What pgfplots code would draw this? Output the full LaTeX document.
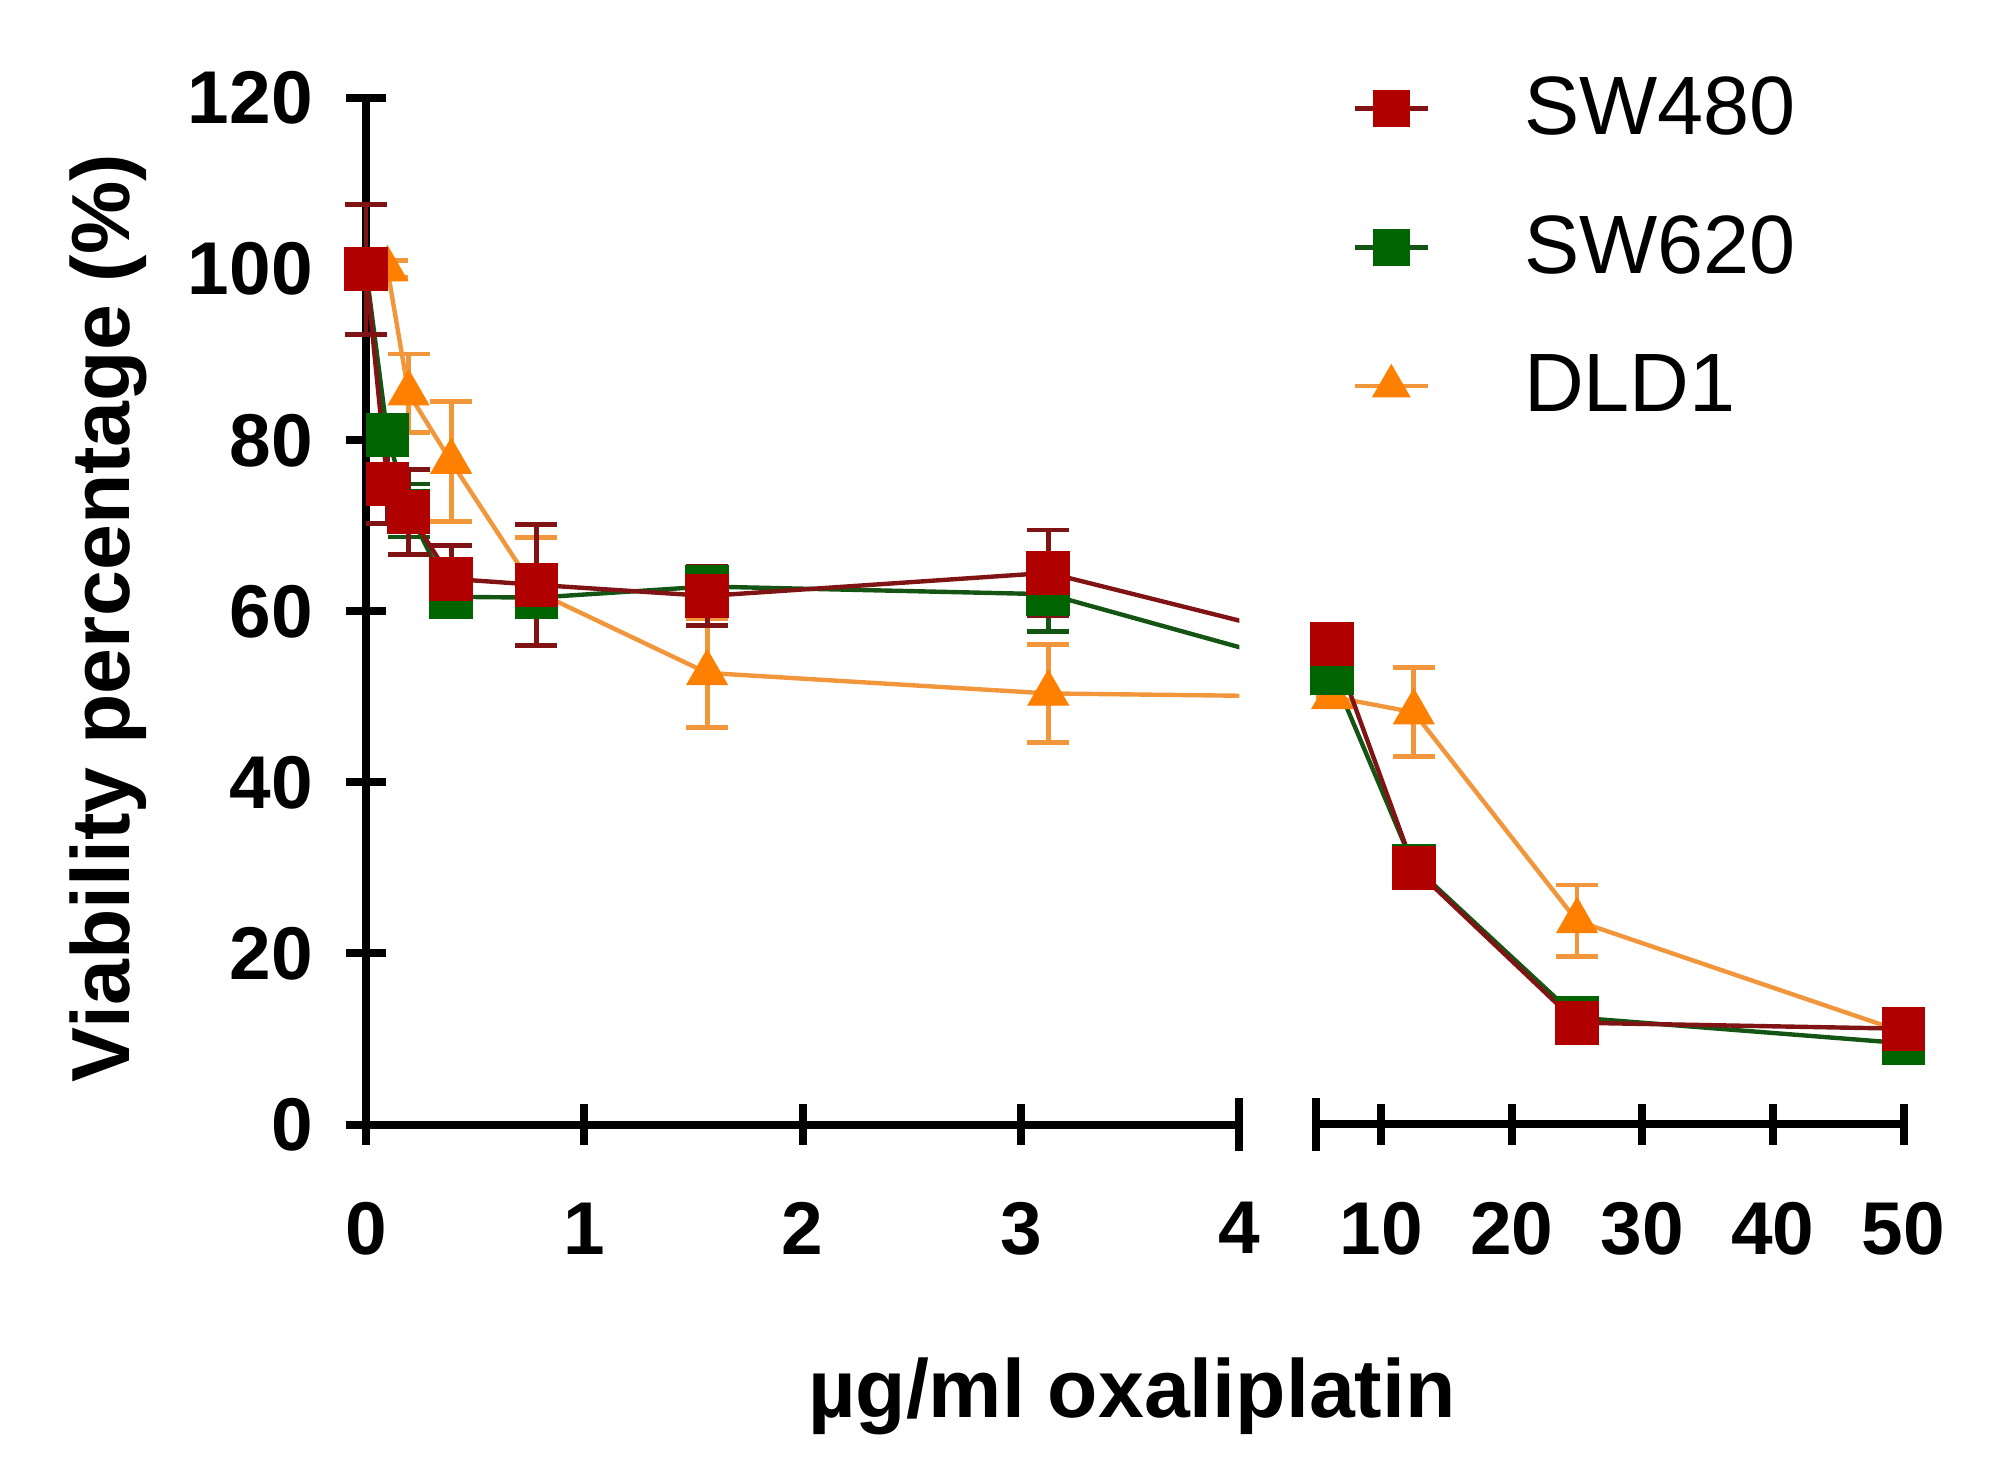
\documentclass[border=0pt]{standalone}
\usepackage{fontspec}
\setmainfont{Liberation Sans}
\usepackage{pgfplots}
\usepackage{pgfplotstable}
\pgfplotsset{compat=1.18}

\definecolor{swafill}{RGB}{176,0,0}
\definecolor{swaline}{RGB}{128,20,20}
\definecolor{swbfill}{RGB}{0,100,0}
\definecolor{swbline}{RGB}{20,85,20}
\definecolor{dldfill}{RGB}{255,128,0}
\definecolor{dldline}{RGB}{242,150,60}

% concentration (ug/ml), viability (%), error
\pgfplotstableread{
c y e
0 100 7.6
0.098 74.9 4.6
0.195 71.6 5.0
0.39 63.8 3.9
0.78 63.1 7.1
1.5625 61.8 3.5
3.125 64.5 5.0
6.25 56.2 1.5
12.5 30.0 1.0
25 11.9 1.0
50 11.2 1.0
}\swa
\pgfplotstableread{
c y e
0 100 1.0
0.098 80.6 2.0
0.195 71.8 3.1
0.39 61.7 1.5
0.78 61.6 2.0
1.5625 62.9 2.0
3.125 62.0 4.4
6.25 52.8 1.0
12.5 30.2 1.0
25 12.5 1.0
50 9.5 1.0
}\swb
\pgfplotstableread{
c y e
0.098 100 1.0
0.195 85.5 4.6
0.39 77.5 7.0
0.78 62.3 6.3
1.5625 52.8 6.4
3.125 50.4 5.7
6.25 50.0 1.0
12.5 48.2 5.2
25 23.8 4.2
50 10.8 1.0
}\dld

\pgfplotsset{
  frame/.style={x=54.58pt, y=2.1381pt, ymin=0, ymax=120, enlargelimits=false, clip=false,
    tick style={black, line width=2pt},
    major tick length=10pt,
    tick align=outside,
    ticklabel style={font=\bfseries\fontsize{18.7}{20}\selectfont},
    xticklabel style={yshift=-11pt},
    yticklabel style={xshift=-4.8pt},
    /pgf/number format/assume math mode=true,
  },
  data/.style={x=54.58pt, y=2.1381pt, ymin=-10, ymax=130, enlargelimits=false, hide axis,
    x filter/.expression={x>4 ? 4.3504+(x-5)*0.059818 : x}},
  swastyle/.style={color=swaline, line width=1.1pt, mark=square*, mark size=5.3pt,
    mark options={fill=swafill, draw=swafill, line width=0.3pt},
    error bars/.cd, y dir=both, y explicit,
    error bar style={line width=1.2pt, color=swaline},
    error mark options={rotate=90, mark size=5.25pt, line width=1.2pt, color=swaline}},
  swbstyle/.style={color=swbline, line width=1.1pt, mark=square*, mark size=5.3pt,
    mark options={fill=swbfill, draw=swbfill, line width=0.3pt},
    error bars/.cd, y dir=both, y explicit,
    error bar style={line width=1.2pt, color=swbline},
    error mark options={rotate=90, mark size=5.25pt, line width=1.2pt, color=swbline}},
  dldstyle/.style={color=dldline, line width=1.1pt, mark=triangle*, mark size=5.8pt,
    mark options={fill=dldfill, draw=dldfill, line width=0.3pt},
    error bars/.cd, y dir=both, y explicit,
    error bar style={line width=1.2pt, color=dldline},
    error mark options={rotate=90, mark size=5.25pt, line width=1.2pt, color=dldline}},
}

\begin{document}
\begin{tikzpicture}
\path[use as bounding box] (0,0) rectangle (499.75pt,366.5pt);

% left frame
\begin{axis}[frame, at={(91.5pt,85.375pt)}, anchor=south west, xmin=0, xmax=4,
  axis x line=bottom, axis y line=left,
  axis line style={-, line width=2pt, black},
  xtick={0,1,2,3}, ytick={0,20,...,120},
  extra x ticks={4},
  extra x tick style={tick align=center, major tick length=13pt, xticklabel style={yshift=1.6pt}},
  xlabel={µg/ml oxaliplatin}, ylabel={Viability percentage (\%)},
  label style={font=\bfseries\fontsize{20.6}{24}\selectfont},
  xlabel style={at={(axis description cs:0.877,-0.2645)}, anchor=center},
  ylabel style={at={(axis description cs:-0.2954,0.4935)}, anchor=center},
]
\end{axis}

% right frame with legend
\begin{axis}[frame, at={(328.95pt,85.375pt)}, anchor=south west, xmin=4.3504, xmax=7.0423,
  axis x line=bottom, axis y line=none,
  axis line style={-, line width=2pt, black},
  xtick={4.6495,5.2477,5.8459,6.4441,7.0423}, xticklabels={10,20,30,40,50},
  extra x ticks={4.3504}, extra x tick labels={},
  extra x tick style={tick align=center, major tick length=13pt},
  ytick=\empty,
  legend cell align=left,
  legend image code/.code={\draw[mark repeat=2, mark phase=2] plot coordinates {(0pt,0pt) (9.125pt,0pt) (18.25pt,0pt)};},
  legend style={at={(0.0408,1.0296)}, anchor=north west, draw=none, fill=none,
    font=\fontsize{20.7}{24}\selectfont, row sep=18.8pt, column sep=23.5pt,
    nodes={inner sep=0pt}},
]
\addlegendimage{color=swaline, line width=1.1pt, mark=square*, mark size=4pt, mark options={fill=swafill, draw=swafill}}
\addlegendentry{SW480}
\addlegendimage{color=swbline, line width=1.1pt, mark=square*, mark size=4pt, mark options={fill=swbfill, draw=swbfill}}
\addlegendentry{SW620}
\addlegendimage{color=dldline, line width=1.1pt, mark=triangle*, mark size=4.5pt, mark options={fill=dldfill, draw=dldfill}}
\addlegendentry{DLD1}
\end{axis}

% left data
\begin{axis}[data, at={(75.126pt,63.994pt)}, anchor=south west, xmin=-0.3, xmax=4]
\addplot[dldstyle] table[x=c, y=y, y error=e] {\dld};
\addplot[swbstyle] table[x=c, y=y, y error=e] {\swb};
\addplot[swastyle] table[x=c, y=y, y error=e] {\swa};
\end{axis}

% right data
\begin{axis}[data, at={(328.95pt,63.994pt)}, anchor=south west, xmin=4.3504, xmax=7.4]
\addplot[dldstyle] table[x=c, y=y, y error=e] {\dld};
\addplot[swbstyle] table[x=c, y=y, y error=e] {\swb};
\addplot[swastyle] table[x=c, y=y, y error=e] {\swa};
\end{axis}
\end{tikzpicture}
\end{document}
